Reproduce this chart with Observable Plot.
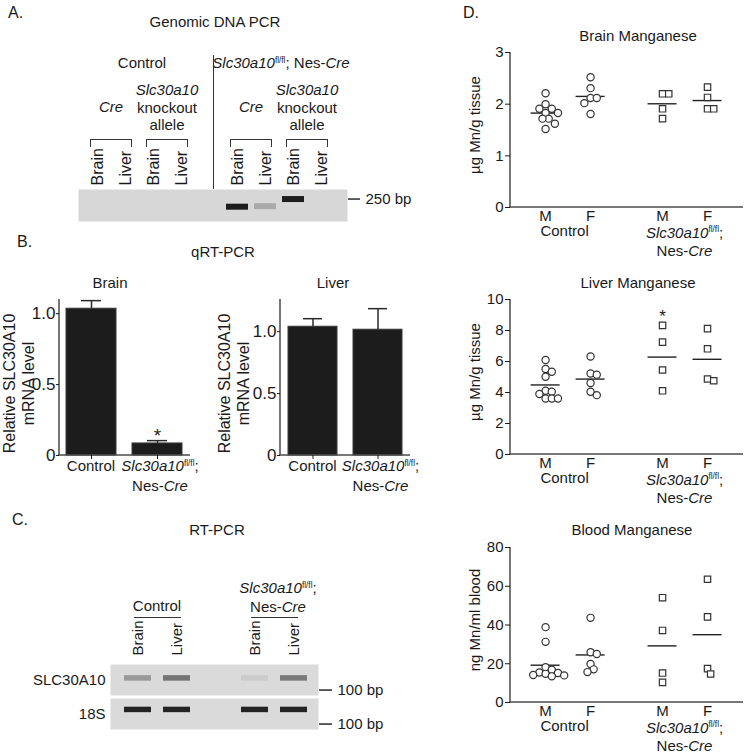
<!DOCTYPE html>
<html>
<head>
<meta charset="utf-8">
<script src="https://cdn.jsdelivr.net/npm/d3@7"></script>
<script src="https://cdn.jsdelivr.net/npm/@observablehq/plot@0.6"></script>
<style>
html,body{margin:0;padding:0;background:#fff;}
#fig{position:relative;width:745px;height:754px;overflow:hidden;font-family:"Liberation Sans",Arial,Helvetica,sans-serif;color:#1a1a1a;}
.lab{position:absolute;white-space:nowrap;line-height:1.15;text-align:center;}
.lab sup{font-size:0.55em;line-height:0;vertical-align:0.65em;}
.br{position:absolute;border:1.3px solid #333;border-bottom:none;box-sizing:border-box;}
.ln{position:absolute;background:#333;}
</style>
</head>
<body>
<div id="fig"></div>
<script>
// ================= DATA =================
// A. Genomic DNA PCR (gel lanes, bands)
const gelALanes = ["Ctrl Cre Brain","Ctrl Cre Liver","Ctrl KO Brain","Ctrl KO Liver","spacer","Nes Cre Brain","Nes Cre Liver","Nes KO Brain","Nes KO Liver"];
const gelALaneText = ["Brain","Liver","Brain","Liver","","Brain","Liver","Brain","Liver"];
const gelABandLanes = ["Nes Cre Brain","Nes Cre Liver","Nes KO Brain"];
const gelABandBp = [200, 203, 250];
const gelABandIntensity = [0.93, 0.22, 0.92];
const gelAMarkerBp = [250];

// B. qRT-PCR
const qGroups = ["Control","Slc30a10 fl/fl; Nes-Cre"];
const qBrainMean = [1.035, 0.085];
const qBrainSem = [0.057, 0.02];
const qBrainSig = ["", "*"];
const qLiverMean = [1.04, 1.016];
const qLiverSem = [0.065, 0.17];
const qLiverSig = ["", ""];
const qTicks = [0, 0.5, 1.0];
const qTickText = ["0", "0.5", "1.0"];

// C. RT-PCR
const gelCLanes = ["Ctrl Brain","Ctrl Liver","spacer","Nes Brain","Nes Liver"];
const gelCLaneText = ["Brain","Liver","","Brain","Liver"];
const gelCGenes = ["SLC30A10","18S"];
const gelCGeneBp = [140, 150];
const gelCBandLanes = ["Ctrl Brain","Ctrl Liver","Nes Brain","Nes Liver"];
const gelCSlcIntensity = [0.32, 0.5, 0.07, 0.47];
const gelC18sIntensity = [0.9, 0.9, 0.9, 0.9];
const gelCMarkerBp = [100];

// D. Manganese levels (groups: Control M, Control F, Slc30a10 M, Slc30a10 F)
const mnGenotype = ["Control","Control","Slc30a10","Slc30a10"];
const mnSex = ["M","F","M","F"];
const brainMn = [
  [2.21, 2.0, 1.91, 1.91, 1.83, 1.83, 1.72, 1.72, 1.62, 1.52],
  [2.52, 2.31, 2.12, 2.12, 2.02, 1.81],
  [2.2, 2.2, 1.91, 1.72],
  [2.33, 2.13, 1.91, 1.91]
];
const liverMn = [
  [6.1, 5.52, 5.34, 5.02, 4.11, 4.05, 3.9, 3.61, 3.61, 3.61],
  [6.32, 5.23, 5.15, 4.61, 4.05, 3.83],
  [8.33, 7.25, 5.45, 4.11],
  [8.12, 6.82, 4.87, 4.76]
];
const bloodMn = [
  [38.9, 31.3, 18.2, 16.9, 15.5, 15.2, 14.8, 14.2, 14.0, 13.5],
  [43.7, 25.9, 25.0, 19.9, 17.1, 15.7],
  [54.1, 37.2, 15.2, 10.4],
  [63.6, 44.2, 17.5, 14.7]
];
const brainSig = ["", "", "", ""];
const liverSig = ["", "", "*", ""];
const bloodSig = ["", "", "", ""];
const brainTicks = [0, 1, 2, 3];
const liverTicks = [0, 2, 4, 6, 8, 10];
const bloodTicks = [0, 20, 40, 60, 80];

// ================= HELPERS =================
const FONT = '"Liberation Sans", Arial, Helvetica, sans-serif';
const INK = "#1a1a1a";
const fig = document.getElementById("fig");
const KO_HTML = "<i>Slc30a10</i><sup>fl/fl</sup>;";

function plotAt(opts, left, top) {
  const svg = Plot.plot({
    ...opts,
    style: {fontFamily: FONT, fontSize: "15px", color: INK, background: "none", overflow: "visible"}
  });
  svg.style.position = "absolute";
  svg.style.left = left + "px";
  svg.style.top = top + "px";
  fig.appendChild(svg);
  return svg;
}
function lab(html, x, y, o = {}) {
  const d = document.createElement("div");
  d.className = "lab";
  d.innerHTML = html;
  d.style.left = x + "px";
  d.style.top = y + "px";
  d.style.fontSize = (o.size || 15) + "px";
  if (o.lh) d.style.lineHeight = o.lh + "px";
  const tx = o.anchor === "start" ? "0" : o.anchor === "end" ? "-100%" : "-50%";
  d.style.transform = `translate(${tx},-50%)`;
  fig.appendChild(d);
  return d;
}
function bracket(x1, x2, y, h) {
  const d = document.createElement("div");
  d.className = "br";
  d.style.left = x1 + "px"; d.style.top = y + "px";
  d.style.width = (x2 - x1) + "px"; d.style.height = h + "px";
  fig.appendChild(d);
}
function line(x, y, w, h) {
  const d = document.createElement("div");
  d.className = "ln";
  d.style.left = x + "px"; d.style.top = y + "px";
  d.style.width = w + "px"; d.style.height = h + "px";
  fig.appendChild(d);
}
// axis domain line drawn from the plot's own dimensions
function axisLine(side) {
  return (index, scales, values, dim) => {
    const l = document.createElementNS("http://www.w3.org/2000/svg", "line");
    const x0 = dim.marginLeft, x1 = dim.width - dim.marginRight;
    const y0 = dim.marginTop, y1 = dim.height - dim.marginBottom;
    if (side === "left") { l.setAttribute("x1", x0); l.setAttribute("x2", x0); l.setAttribute("y1", y0); l.setAttribute("y2", y1); }
    else { l.setAttribute("x1", x0 - 0.7); l.setAttribute("x2", x1); l.setAttribute("y1", y1); l.setAttribute("y2", y1); }
    l.setAttribute("stroke", "#4a4a4a");
    l.setAttribute("stroke-width", 1.5);
    return l;
  };
}
function bandCenter(svg, left, lane) {
  const s = svg.scale("x");
  return left + s.apply(lane) + s.bandwidth / 2;
}

// ================= PANEL A =================
const A_LEFT = 0, A_TOP = 130;
const gelABands = gelABandLanes.map((lane, i) => ({lane, bp: gelABandBp[i], intensity: gelABandIntensity[i]}));
const gelA = plotAt({
  width: 420, height: 91, marginTop: 59, marginRight: 73, marginBottom: 0, marginLeft: 78,
  x: {type: "band", domain: gelALanes, paddingInner: 0.2, paddingOuter: 0.1, insetLeft: 2.75, insetRight: 9.75},
  y: {type: "log", domain: [130, 330]},
  marks: [
    Plot.frame({fill: "#d7d7d7", stroke: null}),
    Plot.tickY(gelABands, {x: "lane", y: "bp", stroke: "#0e0e0e", strokeOpacity: "intensity", strokeWidth: 6}),
    Plot.axisX({anchor: "top", tickSize: 0, tickPadding: 4, tickRotate: -90, label: null, fontSize: 16,
      tickFormat: d => gelALaneText[gelALanes.indexOf(d)]}),
    Plot.axisY({anchor: "right", ticks: gelAMarkerBp, tickSize: 12, tickPadding: 6, label: null,
      strokeWidth: 1.4, tickFormat: d => `${d} bp`})
  ]
}, A_LEFT, A_TOP);

lab("A.", 8, 13, {anchor: "start", size: 16});
lab("Genomic DNA PCR", 215, 22);
{
  const c = gelALanes.map(l => bandCenter(gelA, A_LEFT, l));
  lab("Control", d3.mean(c.slice(0, 4)) + 3, 63);
  lab(KO_HTML + " Nes-<i>Cre</i>", d3.mean(c.slice(5, 9)) + 2, 63);
  lab("<i>Cre</i>", (c[0] + c[1]) / 2, 107);
  lab("<i>Slc30a10</i><br>knockout<br>allele", (c[2] + c[3]) / 2, 107, {lh: 17.5});
  lab("<i>Cre</i>", (c[5] + c[6]) / 2, 107);
  lab("<i>Slc30a10</i><br>knockout<br>allele", (c[7] + c[8]) / 2, 107, {lh: 17.5});
  [[0, 1], [2, 3], [5, 6], [7, 8]].forEach(([a, b]) => bracket(c[a] - 7, c[b] + 7, 139, 8));
  line(c[4] + 4, 55, 1.4, 134);
}

// ================= PANEL B =================
function qPlot(means, sems, sig, yMax, left, top, marginLeft, width, marginRight) {
  const data = qGroups.map((g, i) => ({group: g, mean: means[i], sem: sems[i], sig: sig[i]}));
  return plotAt({
    width, height: 176, marginTop: 9, marginBottom: 11, marginLeft, marginRight,
    x: {type: "band", domain: qGroups, paddingInner: 0.24, paddingOuter: 0.11},
    y: {domain: [0, yMax]},
    marks: [
      Plot.barY(data, {x: "group", y: "mean", fill: "#1c1c1c", stroke: "#3a3a3a", strokeWidth: 1}),
      Plot.ruleX(data, {x: "group", y1: "mean", y2: d => d.mean + d.sem, stroke: "#2a2a2a", strokeWidth: 1.5}),
      Plot.tickY(data, {x: "group", y: d => d.mean + d.sem, stroke: "#2a2a2a", strokeWidth: 1.5, insetLeft: 15, insetRight: 15}),
      Plot.text(data.filter(d => d.sig), {x: "group", y: d => d.mean + d.sem, text: "sig", lineAnchor: "bottom", dy: 1, fontSize: 19}),
      axisLine("left"),
      axisLine("bottom"),
      Plot.axisY({ticks: qTicks, tickSize: 3, tickPadding: 1, fontSize: 17, label: null,
        tickFormat: d => qTickText[qTicks.indexOf(d)]}),
      Plot.axisX({tickSize: 4, tickFormat: () => "", label: null}),
      Plot.text(["Relative SLC30A10\nmRNA level"], {text: d => d, frameAnchor: "left", textAnchor: "middle", rotate: -90,
        lineAnchor: "top", dx: -(marginLeft - 1), dy: 6, lineHeight: 1.2, fontSize: 16})
    ]
  }, left, top);
}
const B_TOP = 290;
const qBrain = qPlot(qBrainMean, qBrainSem, qBrainSig, 1.1, 0, B_TOP, 59, 200, 10);
const qLiver = qPlot(qLiverMean, qLiverSem, qLiverSig, 1.26, 215, B_TOP, 65, 200, 5);
lab("B.", 17, 242, {anchor: "start", size: 16});
lab("qRT-PCR", 223, 252);
lab("Brain", 110, 283);
lab("Liver", 333, 283);
[[qBrain, 0], [qLiver, 215]].forEach(([p, left]) => {
  const c = qGroups.map(g => bandCenter(p, left, g));
  lab("Control", c[0], 466);
  lab(KO_HTML + "<br>Nes-<i>Cre</i>", c[1] + 3, 476, {lh: 20});
});

// ================= PANEL C =================
const C_LEFT = 0, C_TOP = 615;
const gelCBands = [];
gelCBandLanes.forEach((lane, i) => {
  gelCBands.push({gene: gelCGenes[0], lane, bp: gelCGeneBp[0], intensity: gelCSlcIntensity[i]});
  gelCBands.push({gene: gelCGenes[1], lane, bp: gelCGeneBp[1], intensity: gelC18sIntensity[i]});
});
const gelC = plotAt({
  width: 420, height: 120, marginTop: 49, marginRight: 102, marginBottom: 6, marginLeft: 110,
  x: {type: "band", domain: gelCLanes, paddingInner: 0.3, paddingOuter: 0.15, insetLeft: 8, insetRight: 5},
  fy: {domain: gelCGenes, paddingInner: 0.09, paddingOuter: 0},
  y: {type: "log", domain: [86, 203]},
  marks: [
    Plot.frame({fill: "#dadada", stroke: null}),
    Plot.tickY(gelCBands, {fy: "gene", x: "lane", y: "bp", stroke: "#0e0e0e", strokeOpacity: "intensity", strokeWidth: 5.5}),
    Plot.axisX({anchor: "top", tickSize: 0, tickPadding: 9, tickRotate: -90, label: null,
      tickFormat: d => gelCLaneText[gelCLanes.indexOf(d)]}),
    Plot.axisFy({anchor: "left", tickSize: 0, tickPadding: 5, label: null}),
    Plot.axisY({anchor: "right", ticks: gelCMarkerBp, tickSize: 13, tickPadding: 6, label: null,
      strokeWidth: 1.4, tickFormat: d => `${d} bp`})
  ]
}, C_LEFT, C_TOP);
lab("C.", 12, 520, {anchor: "start", size: 16});
lab("RT-PCR", 217, 530);
{
  const c = gelCLanes.map(l => bandCenter(gelC, C_LEFT, l));
  lab("Control", (c[0] + c[1]) / 2, 606);
  lab(KO_HTML + "<br>Nes-<i>Cre</i>", (c[3] + c[4]) / 2 + 4, 597, {lh: 19});
  line(c[0] - 4, 616.5, c[1] - c[0] + 8, 1.4);
  line(c[3] - 4, 616.5, c[4] - c[3] + 8, 1.4);
}

// ================= PANEL D =================
const GROUP_GAP = 0.6;
const slotOf = gi => {
  const g = ["Control", "Slc30a10"].indexOf(mnGenotype[gi]);
  const s = ["M", "F"].indexOf(mnSex[gi]);
  return g * (2 + GROUP_GAP) + s;
};
const slots = mnSex.map((_, gi) => slotOf(gi));
// deterministic beeswarm: pixel offsets so symbols do not pile up
function swarm(values, pxPerY, D) {
  const placed = [], out = new Array(values.length);
  const order = values.map((v, i) => i).sort((a, b) => values[b] - values[a]);
  for (const i of order) {
    const y = values[i] * pxPerY;
    for (let k = 0; k < 60; k++) {
      const off = (k === 0 ? 0 : (k % 2 ? 1 : -1) * Math.ceil(k / 2)) * D / 2;
      if (placed.every(p => Math.hypot(p.x - off, p.y - y) >= D)) { placed.push({x: off, y}); out[i] = off; break; }
    }
  }
  return out;
}
function mnPlot(values, yMax, ticks, ylabel, sig, top) {
  const W = 325, mL = 90, mR = 2, mT = 12, mB = 30, innerH = 155;
  const xDom = [-0.78, 4.4];
  const pxX = (W - mL - mR) / (xDom[1] - xDom[0]);
  const pxY = innerH / yMax;
  const pts = [], means = [], stars = [];
  values.forEach((vals, gi) => {
    const slot = slotOf(gi);
    const offs = swarm(vals, pxY, 6.2);
    vals.forEach((v, i) => pts.push({geno: mnGenotype[gi], x: slot + offs[i] / pxX, y: v}));
    means.push({slot, mean: d3.mean(vals)});
    if (sig[gi]) stars.push({slot, y: d3.max(vals), text: sig[gi]});
  });
  const hw = 14.5 / pxX;
  const svg = plotAt({
    width: W, height: mT + innerH + mB, marginTop: mT, marginRight: mR, marginBottom: mB, marginLeft: mL,
    x: {domain: xDom},
    y: {domain: [0, yMax]},
    symbol: {domain: ["Control", "Slc30a10"], range: ["circle", "square"]},
    marks: [
      Plot.ruleY(means, {y: "mean", x1: d => d.slot - hw, x2: d => d.slot + hw, stroke: "#222", strokeWidth: 1.4}),
      Plot.dot(pts, {x: "x", y: "y", symbol: "geno", r: 3.6, stroke: "#333", strokeWidth: 1.2, fill: "white"}),
      Plot.text(stars, {x: "slot", y: "y", text: "text", lineAnchor: "bottom", dy: -3, fontSize: 17}),
      axisLine("left"),
      axisLine("bottom"),
      Plot.axisY({ticks, tickSize: 5, tickPadding: 2, label: null, tickFormat: d => String(d)}),
      Plot.axisX({ticks: slots, tickSize: 0, tickPadding: 3, label: null,
        tickFormat: d => mnSex[slots.indexOf(d)]}),
      Plot.text([ylabel], {text: d => d, frameAnchor: "left", textAnchor: "middle", rotate: -90,
        lineAnchor: "top", dx: -41, dy: -5, fontSize: 15})
    ]
  }, 420, top);
  const sx = svg.scale("x");
  const bottom = top + mT + innerH;
  const c = slots.map(s => 420 + sx.apply(s));
  lab("Control", (c[0] + c[1]) / 2 - 3, bottom + 24);
  lab(KO_HTML + "<br>Nes-<i>Cre</i>", (c[2] + c[3]) / 2, bottom + 34, {lh: 17.5});
  return svg;
}
lab("D.", 463, 13, {anchor: "start", size: 16});
lab("Brain Manganese", 638, 36);
mnPlot(brainMn, 3, brainTicks, "µg Mn/g tissue", brainSig, 40);
lab("Liver Manganese", 638, 283);
mnPlot(liverMn, 10, liverTicks, "µg Mn/g tissue", liverSig, 287);
lab("Blood Manganese", 632, 530);
mnPlot(bloodMn, 80, bloodTicks, "ng Mn/ml blood", bloodSig, 535);
</script>
</body>
</html>
